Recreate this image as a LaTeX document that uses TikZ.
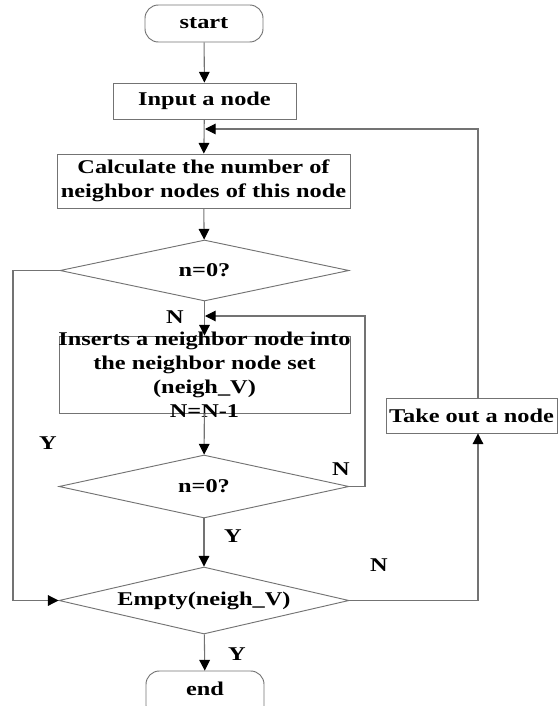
\documentclass[tikz,border=0pt]{standalone}
\usepackage{fontspec}
\setmainfont{Liberation Serif}[FakeStretch=1.25]
\usetikzlibrary{arrows.meta,shapes.geometric}
\newcommand\pxu{0.75pt}
\begin{document}
\begin{tikzpicture}[x=0.75pt,y=-0.75pt,
  every node/.style={font=\fontsize{14.6pt}{18pt}\selectfont\bfseries},
  line/.style={draw=black!55,line width=0.8pt},
  arr/.style={line,-{Triangle[length=8pt,width=8pt,color=black]}},
  boxstyle/.style={draw=black!55,line width=0.7pt,rectangle,inner sep=0pt,align=center},
  termstyle/.style={boxstyle,rounded corners=10pt},
  decstyle/.style={draw=black!55,line width=0.7pt,diamond,aspect=4.75,inner sep=0pt},
  lbl/.style={inner sep=0pt}]
\useasboundingbox (0,0) rectangle (558,706);
\clip (0,0) rectangle (558,706);
% nodes
\node[termstyle,minimum width=118*\pxu,minimum height=37*\pxu] (start) at (204,23.5) {start};
\node[boxstyle,minimum width=183*\pxu,minimum height=36*\pxu] (input) at (204.5,101) {Input a node};
\node[boxstyle,minimum width=293*\pxu,minimum height=54*\pxu] (calc) at (203.5,181) {Calculate the number of\\neighbor nodes of this node};
\node[decstyle,minimum width=289*\pxu,minimum height=61*\pxu] (d1) at (204.5,270.5) {n=0?};
\node[boxstyle,minimum width=291*\pxu,minimum height=77*\pxu] (box2) at (204.5,374.5) {};
\node[lbl,align=center] (box2text) at (204.5,374.5) {Inserts a neighbor node into\\the neighbor node set\\(neigh\_V)\\N=N-1};
\node[decstyle,minimum width=290*\pxu,minimum height=63*\pxu] (d2) at (204,486.5) {n=0?};
\node[decstyle,minimum width=290*\pxu,minimum height=67*\pxu] (d3) at (204,600.5) {Empty(neigh\_V)};
\node[boxstyle,minimum width=171*\pxu,minimum height=35*\pxu] (take) at (471.5,415.5) {Take out a node};
\node[termstyle,minimum width=118*\pxu,minimum height=48*\pxu] (end) at (205,695) {};
\node[lbl] (endtext) at (205,689) {end};
% coordinates
\coordinate (j1) at (205,129);
\coordinate (j2) at (205,316);
% connectors
\draw[arr] (start) -- (input);
\draw[arr] (input) -- (calc);
\draw[arr] (calc) -- (d1);
\draw[arr] (d1) -- (box2);
\draw[arr] (box2) -- (d2);
\draw[arr] (d2) -- (d3);
\draw[arr] (d3) -- (end);
\draw[arr] (d2.east) -- (365,486.5) -- (365,316) -- (j2);
\draw[arr] (d1.west) -- (13,270.5) -- (13,600.5) -- (d3.west);
\draw[arr] (d3.east) -- (478,600.5) -- (take.south -| 478,0);
\draw[arr] (take.north -| 478,0) -- (478,129) -- (j1);
% labels
\node[lbl] (lN1) at (175,317) {N};
\node[lbl] (lN2) at (341,469) {N};
\node[lbl] (lY1) at (48,443) {Y};
\node[lbl] (lY2) at (233,536) {Y};
\node[lbl] (lN3) at (379,565) {N};
\node[lbl] (lY3) at (237,654) {Y};
\end{tikzpicture}
\end{document}
